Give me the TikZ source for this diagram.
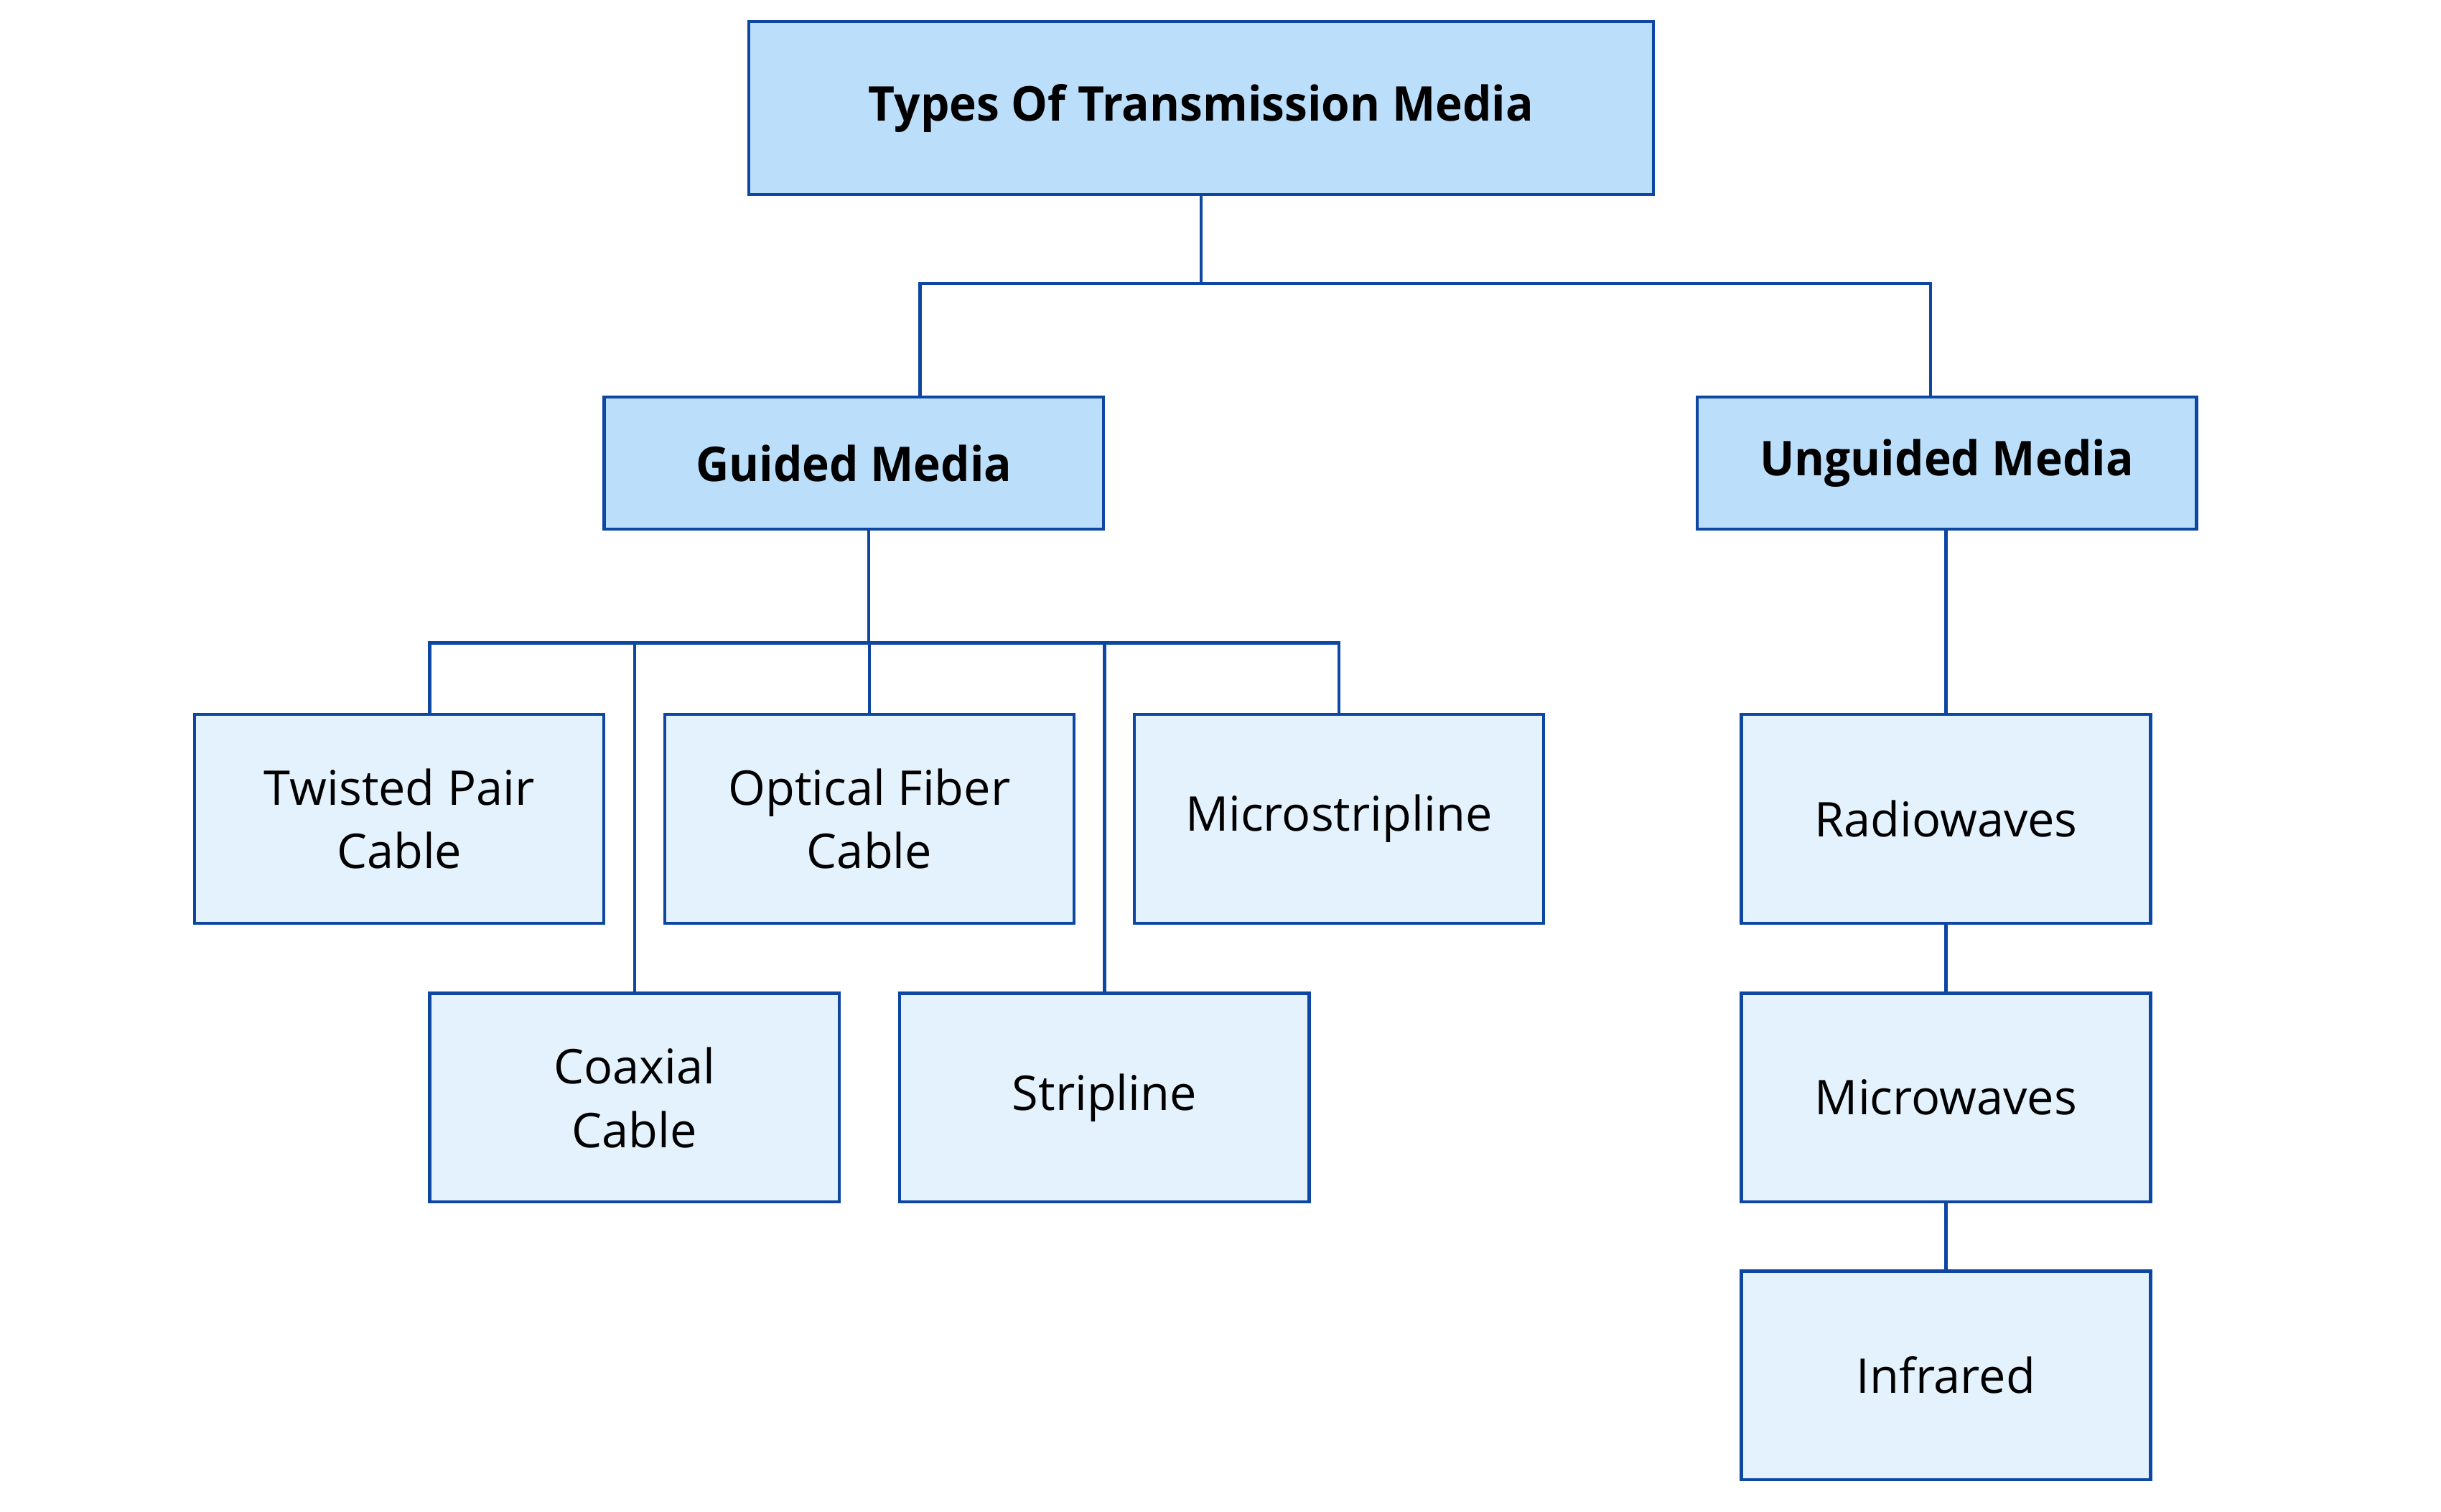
\documentclass[tikz,border=0pt]{standalone}
\usepackage{fontspec}
\setmainfont{Open Sans}[BoldFeatures={FakeStretch=0.96}]
\definecolor{edge}{HTML}{0D47A1}
\definecolor{headfill}{HTML}{BBDEFB}
\definecolor{leaffill}{HTML}{E3F2FD}
\tikzset{
  base/.style={draw=edge, line width=1.1pt, inner sep=0pt, align=center,
    font=\fontsize{17.5}{23.3}\selectfont, text=black},
  headbox/.style={base, fill=headfill, font=\fontsize{17.5}{23.3}\selectfont\bfseries},
  leafbox/.style={base, fill=leaffill, minimum width=5.26cm, minimum height=2.68cm},
  conn/.style={draw=edge, line width=1.1pt}
}
\begin{document}
\begin{tikzpicture}[x=0.02cm, y=-0.02cm]
\useasboundingbox[fill=white] (0,0) rectangle (1568,971);
% header boxes
\node[headbox, minimum width=11.62cm, minimum height=2.22cm] (top) at (771.5,69.5) {Types Of Transmission Media};
\node[headbox, minimum width=6.42cm, minimum height=1.70cm] (guided) at (548.5,297.5) {Guided Media};
\node[headbox, minimum width=6.42cm, minimum height=1.70cm] (unguided) at (1250.5,297.5) {Unguided Media};
% leaf boxes
\node[leafbox] (twisted) at (256.5,526) {Twisted Pair\\Cable};
\node[leafbox] (optical) at (558.5,526) {Optical Fiber\\Cable};
\node[leafbox] (micro) at (860,526) {Microstripline};
\node[leafbox] (coax) at (407.5,705) {Coaxial\\Cable};
\node[leafbox] (strip) at (709.5,705) {Stripline};
\node[leafbox] (radio) at (1250,526) {Radiowaves};
\node[leafbox] (microw) at (1250,705) {Microwaves};
\node[leafbox] (infra) at (1250,883.5) {Infrared};
% junctions
\coordinate (jl) at (591,182);
\coordinate (jr) at (1240,182);
\coordinate (jg) at (558,413);
\coordinate (jt) at (276,413);
% top connectors
\draw[conn] (top.south) -- (top.south |- jl);
\draw[conn] (guided.north -| jl) -- (jl) -- (jr) -- (unguided.north -| jr);
% guided connectors
\draw[conn] (guided.south -| jg) -- (jg);
\draw[conn] (twisted.north -| jt) -- (jt) -- (micro.north |- jg) -- (micro.north);
\draw[conn] (optical.north) -- (optical.north |- jg);
\draw[conn] (coax.north) -- (coax.north |- jg);
\draw[conn] (strip.north) -- (strip.north |- jg);
% unguided connectors
\draw[conn] (unguided.south -| radio.north) -- (radio.north);
\draw[conn] (radio.south) -- (microw.north);
\draw[conn] (microw.south) -- (infra.north);
\end{tikzpicture}
\end{document}
